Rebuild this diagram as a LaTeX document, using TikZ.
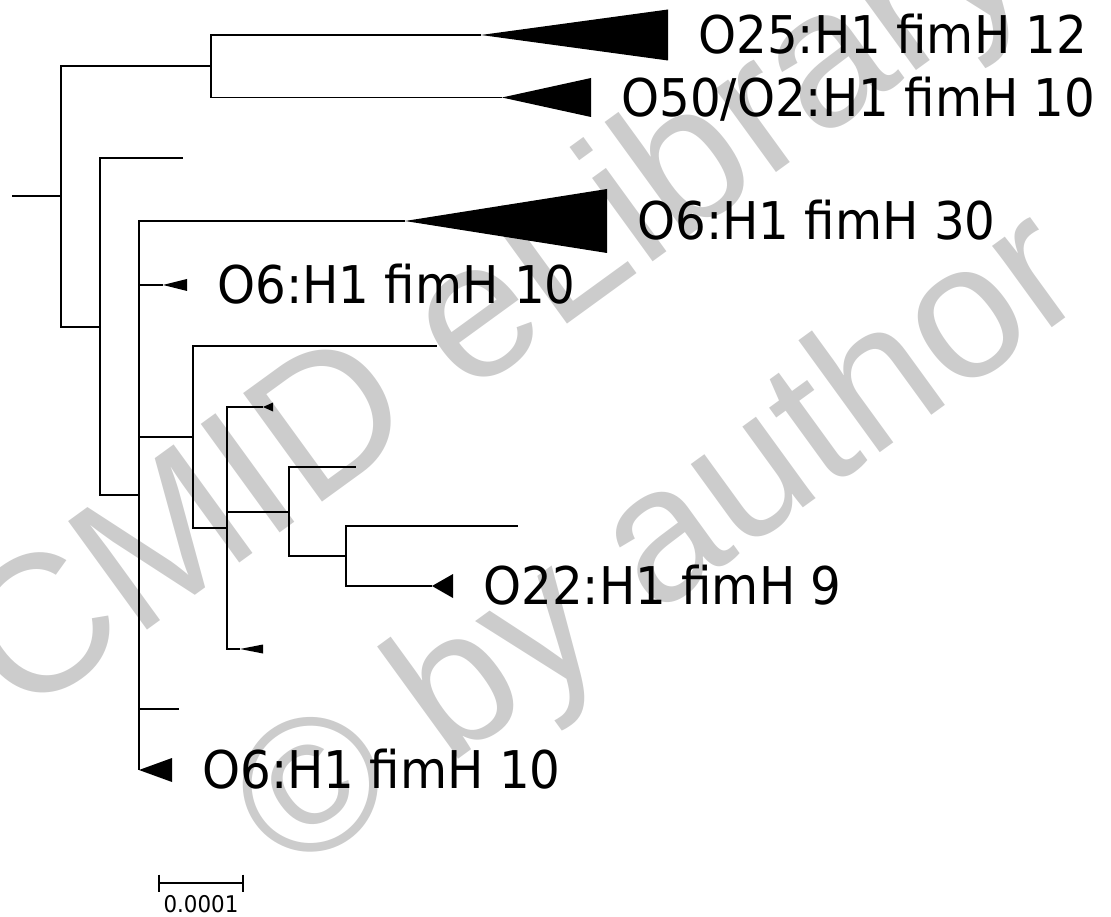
\documentclass[tikz,border=0pt]{standalone}
\usepackage{fontspec}
\setmainfont{DejaVu Sans}[FakeStretch=0.93]
\newfontfamily\wmfont{Liberation Sans}
\usepackage{tikz}
\usetikzlibrary{positioning,calc}

\begin{document}
\begin{tikzpicture}[
    x=1pt, y=-1pt,
    branch/.style={line width=1.6pt, line join=miter},
    clade/.style={fill=black},
    taxon/.style={font=\fontsize{52}{60}\selectfont, inner sep=0pt,
                  text height=37.9pt, text depth=0pt},
    wm/.style={font=\wmfont\fontsize{195}{230}\selectfont, text=black!20,
               inner sep=0pt, rotate=36, anchor=base west},
    scalelab/.style={font=\fontsize{23}{27}\selectfont, inner sep=0pt},
]
\useasboundingbox (0,0) rectangle (1111,917);
\clip (0,0) rectangle (1111,917);

% Watermark (behind the tree)
\node[wm] (wmtop) at (20,722) {CMID eLibrary};
\node[wm, font=\wmfont\fontsize{191}{226}\selectfont] (wmbot) at (292,880) {© by author};

% Internal nodes
\coordinate (r0) at (12,196);
\coordinate (r) at (61,196);
\coordinate (n1) at (211,66);
\coordinate (n2) at (100,327);
\coordinate (n3) at (139,495);
\coordinate (n4) at (193,437);
\coordinate (n5) at (227,528);
\coordinate (n6) at (289,512);
\coordinate (n7) at (346,556);

% Tips
\coordinate (t25) at (481,35);
\coordinate (t50) at (502,97.5);
\coordinate (la) at (183,158);
\coordinate (t30) at (405,221);
\coordinate (t10a) at (163,285);
\coordinate (lc) at (437,346);
\coordinate (ts1) at (263,407);
\coordinate (ld) at (356,467);
\coordinate (le) at (518,526);
\coordinate (t22) at (432,586);
\coordinate (ts2) at (240,649);
\coordinate (lb) at (179,709);
\coordinate (t10b) at (139,770);

% Branches
\draw[branch] (r0) -- (r);
\draw[branch] (r) |- (n1);
\draw[branch] (r) |- (n2);
\draw[branch] (n1) |- (t25);
\draw[branch] (n1) |- (t50);
\draw[branch] (n2) |- (la);
\draw[branch] (n2) |- (n3);
\draw[branch] (n3) |- (t30);
\draw[branch] (n3) |- (t10a);
\draw[branch] (n3) |- (n4);
\draw[branch] (n3) |- (lb);
\draw[branch] (n3) |- (t10b);
\draw[branch] (n4) |- (lc);
\draw[branch] (n4) |- (n5);
\draw[branch] (n5) |- (ts1);
\draw[branch] (n5) |- (n6);
\draw[branch] (n5) |- (ts2);
\draw[branch] (n6) |- (ld);
\draw[branch] (n6) |- (n7);
\draw[branch] (n7) |- (le);
\draw[branch] (n7) |- (t22);

% Collapsed clades
\fill[clade] (t25) -- ++(187,-25.5) coordinate (b25) -- ++(0,51) -- cycle;
\fill[clade] (t50) -- ++(89,-19.5) coordinate (b50) -- ++(0,39) -- cycle;
\fill[clade] (t30) -- ++(202,-32) coordinate (b30) -- ++(0,64) -- cycle;
\fill[clade] (t10a) -- ++(24,-6) coordinate (b10a) -- ++(0,12) -- cycle;
\fill[clade] (ts1) -- ++(10,-4.5) -- ++(0,9) -- cycle;
\fill[clade] (t22) -- ++(21,-12) coordinate (b22) -- ++(0,24) -- cycle;
\fill[clade] (ts2) -- ++(23,-4.5) -- ++(0,9) -- cycle;
\fill[clade] (t10b) -- ++(33,-12) coordinate (b10b) -- ++(0,24) -- cycle;

% Labels
\node[taxon, anchor=west] (l25) at ($(b25)+(30,25.5)$) {O25:H1 fimH 12};
\node[taxon, anchor=west] (l50) at ($(b50)+(30,19.5)$) {O50/O2:H1 fimH 10};
\node[taxon, anchor=west] (l30) at ($(b30)+(30,32)$) {O6:H1 fimH 30};
\node[taxon, anchor=west] (l10a) at ($(b10a)+(30,6)$) {O6:H1 fimH 10};
\node[taxon, anchor=west] (l22) at ($(b22)+(30,12)$) {O22:H1 fimH 9};
\node[taxon, anchor=west] (l10b) at ($(b10b)+(30,12)$) {O6:H1 fimH 10};

% Scale bar
\coordinate (sb1) at (159,883);
\coordinate (sb2) at (243,883);
\draw[line width=1.4pt] (sb1) -- (sb2);
\draw[line width=1.4pt] ($(sb1)+(0,-8.5)$) -- ($(sb1)+(0,8.5)$);
\draw[line width=1.4pt] ($(sb2)+(0,-8.5)$) -- ($(sb2)+(0,8.5)$);
\node[scalelab, below=12pt of $(sb1)!0.5!(sb2)$] (sblab) {0.0001};

\end{tikzpicture}
\end{document}
